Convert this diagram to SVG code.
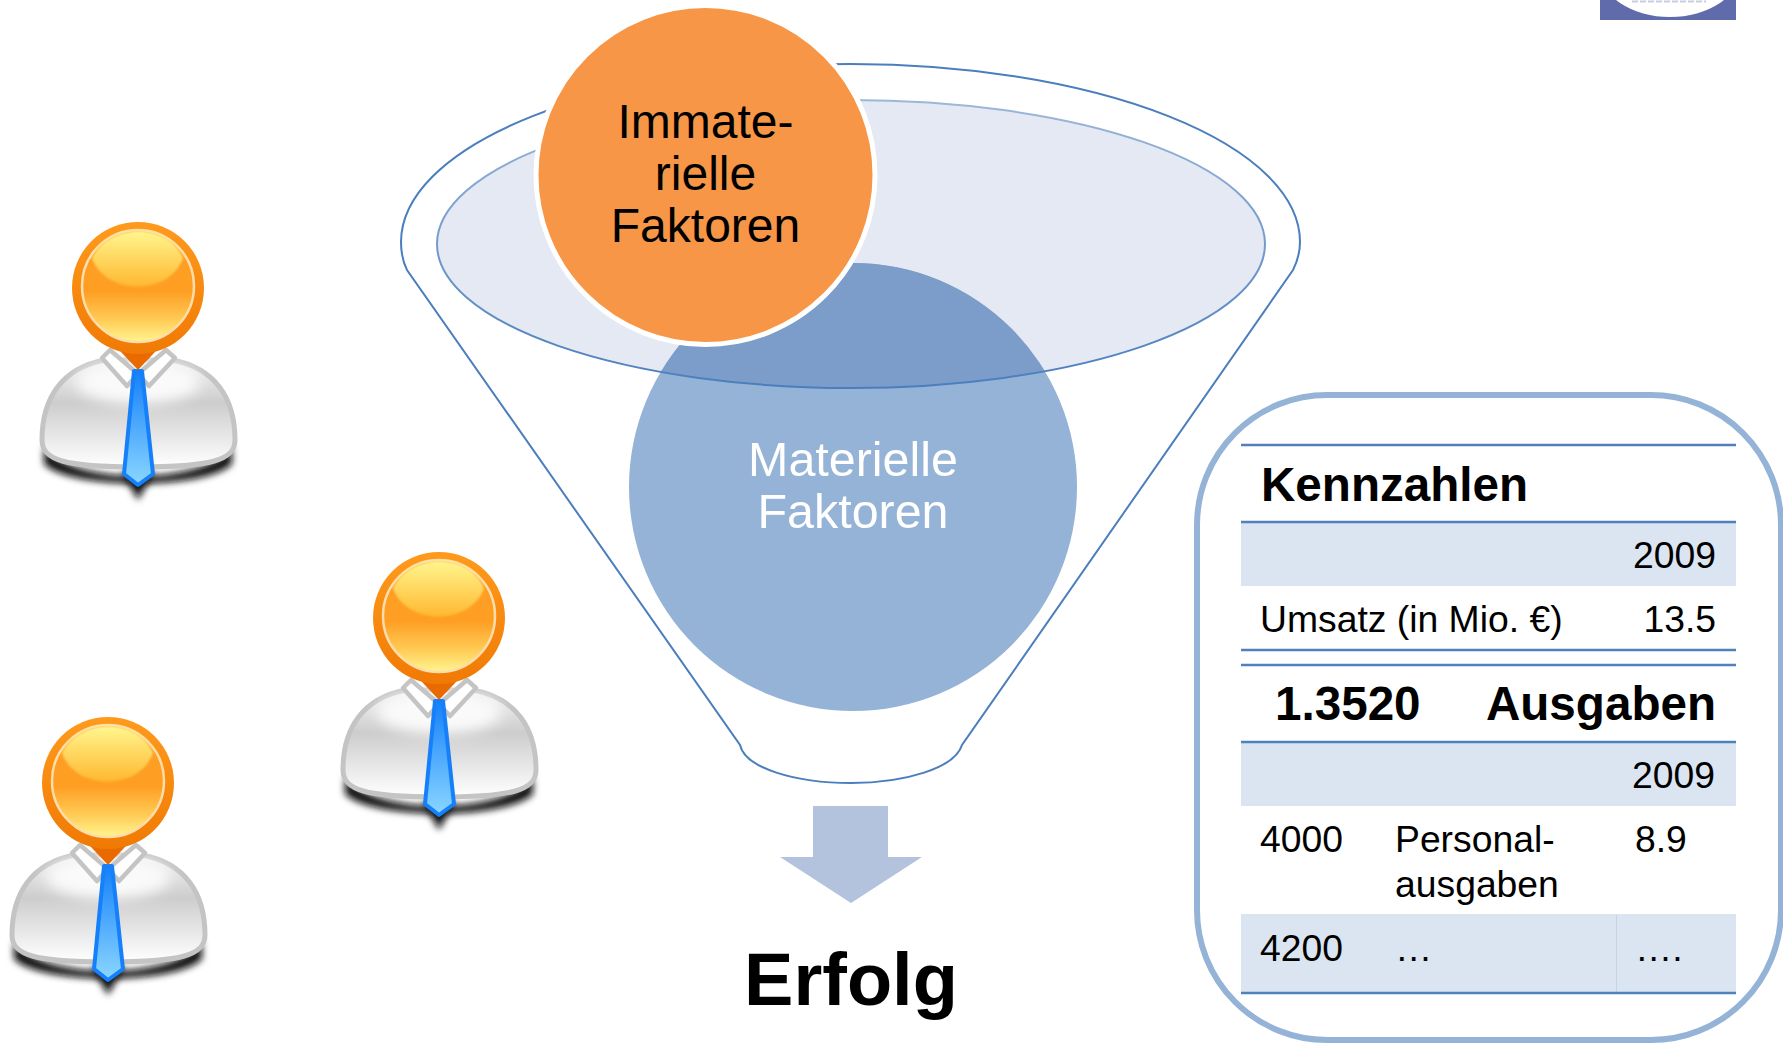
<svg xmlns="http://www.w3.org/2000/svg" xmlns:xlink="http://www.w3.org/1999/xlink" width="1783" height="1044" viewBox="0 0 1783 1044">
<style>
text{font-family:"Liberation Sans",Arial,sans-serif;fill:#000}
.t{font-size:37.3px}
.h{font-size:47.6px;font-weight:bold}
.c{font-size:48px;text-anchor:middle}
.e{text-anchor:end}
.rule{stroke:#4F81BD;stroke-width:2.5;fill:none}
.band{fill:#DBE5F1}
</style>
<defs>
<linearGradient id="headV" x1="0" y1="0" x2="0" y2="1">
<stop offset="0" stop-color="#FF9C20"/><stop offset="0.55" stop-color="#FE9F24"/><stop offset="0.8" stop-color="#FFCB55"/><stop offset="1" stop-color="#FFF590"/>
</linearGradient>
<linearGradient id="ringG" x1="0" y1="0" x2="0" y2="1">
<stop offset="0" stop-color="#FF9A1C"/><stop offset="1" stop-color="#F07A04"/>
</linearGradient>
<linearGradient id="gloss" x1="0" y1="0" x2="0" y2="1">
<stop offset="0" stop-color="#FFF68F"/><stop offset="1" stop-color="#FFB830"/>
</linearGradient>
<linearGradient id="bodyG" x1="0" y1="0" x2="0" y2="1">
<stop offset="0" stop-color="#F4F4F4"/><stop offset="0.4" stop-color="#CDCDCD"/><stop offset="1" stop-color="#FFFFFF"/>
</linearGradient>
<linearGradient id="tieG" x1="0" y1="0" x2="0" y2="1">
<stop offset="0" stop-color="#1580FA"/><stop offset="1" stop-color="#8AD6FF"/>
</linearGradient>
<linearGradient id="ellS" x1="0" y1="0" x2="0" y2="1">
<stop offset="0" stop-color="#9DB7D9"/><stop offset="1" stop-color="#4A7EBD"/>
</linearGradient>
<filter id="blur" x="-20%" y="-60%" width="140%" height="220%"><feGaussianBlur stdDeviation="3.5"/></filter>
<filter id="hi" x="-30%" y="-60%" width="160%" height="220%"><feGaussianBlur stdDeviation="7"/></filter>
<filter id="soft" x="-30%" y="-30%" width="160%" height="160%"><feGaussianBlur stdDeviation="1"/></filter>
<clipPath id="ellClip"><ellipse cx="851" cy="244" rx="414" ry="144"/></clipPath>
<g id="person">
<path d="M44,446 C70,486 206,486 232,446 L232,464 C205,490 71,490 44,464Z" fill="#111" filter="url(#blur)"/>
<path d="M122,472 L138,500 L154,472Z" fill="#111" filter="url(#blur)"/>
<path d="M42,440 C42,398 62,368 105,360 L172,360 C215,368 235,398 235,440 C235,460 212,467 138,467 C64,467 42,460 42,440Z" fill="url(#bodyG)" stroke="#C4C4C4" stroke-width="5"/>
<ellipse cx="138" cy="382" rx="62" ry="22" fill="#FAFAFA" filter="url(#hi)"/>
<path d="M110,350 L102,358 L127,386 L138,374 Z" fill="#fff" stroke="#C4C4C4" stroke-width="4.5" stroke-linejoin="round"/>
<path d="M166,350 L175,358 L149,386 L138,374 Z" fill="#fff" stroke="#C4C4C4" stroke-width="4.5" stroke-linejoin="round"/>
<path d="M134,371 L142,371 L153,474 L138,485 L124,474Z" fill="url(#tieG)" stroke="#1580FA" stroke-width="4" stroke-linejoin="round"/>
<path d="M106,336 L138,370 L170,336Z" fill="#E96A00"/>
<circle cx="138" cy="288" r="66" fill="url(#ringG)"/>
<circle cx="138" cy="286" r="56" fill="url(#headV)" stroke="#FFDDAA" stroke-width="2.5"/>
<path d="M92,258 C100,240 120,231 138,231 C158,231 176,240 183,258 C170,296 105,296 92,258Z" fill="url(#gloss)" filter="url(#soft)"/>
</g>
</defs>
<rect width="1783" height="1044" fill="#fff"/>

<g id="logo">
<rect x="1600" y="0" width="136" height="20" fill="#5F6BAB"/>
<ellipse cx="1670" cy="-30" rx="70" ry="47" fill="#fff"/>
<path d="M1632,1.5 H1706" stroke="#C8CCE2" stroke-width="2" stroke-dasharray="6 2" fill="none"/>
</g>

<g id="funnel">
<path d="M407,270 C403,262 401,252 401,242 A449.5,178 0 0 1 1300,242 C1300,252 1297,262 1293,270 L962,745 C955,768 905,783 851,783 C795,783 745,768 740,745 Z" fill="#fff" stroke="#4A7EBD" stroke-width="2"/>
<ellipse cx="851" cy="244" rx="414" ry="144" fill="#E4E9F3"/>
</g>

<g id="materielle">
<circle cx="853" cy="487" r="224" fill="#95B3D7"/>
<circle cx="853" cy="487" r="224" fill="#7C9DCA" clip-path="url(#ellClip)"/>
<ellipse cx="851" cy="244" rx="414" ry="144" fill="none" stroke="url(#ellS)" stroke-width="2"/>
<text class="c" x="853" y="476" style="fill:#fff;font-size:48.4px">Materielle</text>
<text class="c" x="853" y="528" style="fill:#fff;font-size:48.4px">Faktoren</text>
</g>

<g id="immaterielle">
<circle cx="705.5" cy="175" r="169.5" fill="#F79646" stroke="#fff" stroke-width="5"/>
<text class="c" x="705.5" y="138">Immate-</text>
<text class="c" x="705.5" y="190">rielle</text>
<text class="c" x="705.5" y="242">Faktoren</text>
</g>

<g id="connectors">
<path d="M813,806 H888 V857 H922 L851,903 L780,857 H813Z" fill="#B3C3DE"/>
</g>

<g id="erfolg">
<text x="851" y="1005" text-anchor="middle" style="font-size:74px;font-weight:bold">Erfolg</text>
</g>

<g id="person1"><use href="#person"/></g>
<g id="person2"><use href="#person" x="301" y="330"/></g>
<g id="person3"><use href="#person" x="-30" y="495"/></g>

<g id="kennzahlen">
<rect x="1197" y="395" width="584" height="645" rx="130" ry="130" fill="#fff" stroke="#95B3D7" stroke-width="6"/>
<rect class="band" x="1241" y="522" width="495" height="64"/>
<rect class="band" x="1241" y="742" width="495" height="64"/>
<rect class="band" x="1241" y="914" width="495" height="79"/>
<path d="M1616.5,915 V993" stroke="#C3D3E8" stroke-width="1" fill="none"/>
<path class="rule" d="M1241,445 H1736 M1241,522 H1736 M1241,650 H1736 M1241,665 H1736 M1241,742 H1736 M1241,993 H1736"/>
<text class="h" x="1261" y="501">Kennzahlen</text>
<text class="t e" x="1716" y="568">2009</text>
<text class="t" x="1260" y="632">Umsatz (in Mio. €)</text>
<text class="t e" x="1716" y="632">13.5</text>
<text class="h" x="1275" y="720">1.3520</text>
<text class="h e" x="1716" y="720">Ausgaben</text>
<text class="t e" x="1715" y="788">2009</text>
<text class="t" x="1260" y="852">4000</text>
<text class="t" x="1395" y="852">Personal-</text>
<text class="t" x="1395" y="897">ausgaben</text>
<text class="t" x="1635" y="852">8.9</text>
<text class="t" x="1260" y="961">4200</text>
<text class="t" x="1395" y="961">…</text>
<text class="t" x="1635" y="961">….</text>
</g>
</svg>
